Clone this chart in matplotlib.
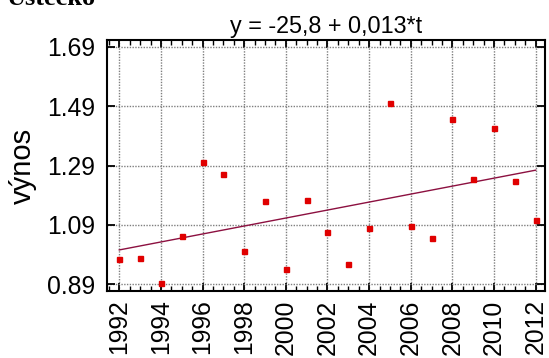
import numpy as np
import matplotlib
matplotlib.use("Agg")
import matplotlib.pyplot as plt
from matplotlib.ticker import MultipleLocator, FixedLocator

years = np.arange(1992, 2013)
vynos = [0.974, 0.980, 0.896, 1.052, 1.302, 1.262, 1.001, 1.170, 0.940, 1.173,
         1.066, 0.960, 1.080, 1.499, 1.086, 1.047, 1.446, 1.244, 1.416, 1.237, 1.108]
y_ticks = [0.89, 1.09, 1.29, 1.49, 1.69]
x_ticks = list(range(1992, 2013, 2))
title_text = "y = -25,8 + 0,013*t"
region = "Ústecko"
ylabel = "výnos"

plt.rcParams['font.family'] = ['Liberation Sans', 'DejaVu Sans']

fig = plt.figure(figsize=(5.49, 3.58), dpi=100)
ax = fig.add_axes([107/549, 1 - 291/358, (545 - 107)/549, (291 - 40)/358])

coef = np.polyfit(years, vynos, 1)
xl = np.array([years[0], years[-1]])
ax.plot(xl, np.polyval(coef, xl), color='#8c1040', lw=1.0, zorder=3)
ax.plot(years, vynos, 's', color='#e00000', ms=3.6, mec='#e00000', zorder=4)

ax.set_xlim(1991.41, 2012.45)
ax.set_ylim(0.8674, 1.7126)
ax.xaxis.set_major_locator(FixedLocator(x_ticks))
ax.xaxis.set_minor_locator(MultipleLocator(0.5))
ax.yaxis.set_major_locator(FixedLocator(y_ticks))
ax.set_yticklabels([f"{v:.2f}" for v in y_ticks], fontsize=17.8)
ax.set_xticklabels([str(v) for v in x_ticks], fontsize=17.8, rotation=90)

ax.tick_params(which='both', direction='in', top=True, right=True, color='black')
ax.tick_params(which='major', length=6, width=1.3)
ax.tick_params(which='minor', length=3.5, width=1.0)
ax.tick_params(axis='y', which='major', pad=8.5)
ax.tick_params(axis='x', which='major', pad=6)

ax.grid(True, which='major', color='#7f7f7f', linestyle=(0, (1, 1)), linewidth=1.0)
ax.set_axisbelow(True)
for s in ax.spines.values():
    s.set_linewidth(1.5)

ax.set_ylabel(ylabel, fontsize=21, labelpad=7)
ax.set_title(title_text, fontsize=16.8, pad=5)

fig.text(0.012, 1 - 5/358, region, fontsize=19, fontweight='bold',
         family=['Liberation Serif', 'DejaVu Serif'], va='baseline', ha='left')

fig.savefig("out.png", dpi=100)
